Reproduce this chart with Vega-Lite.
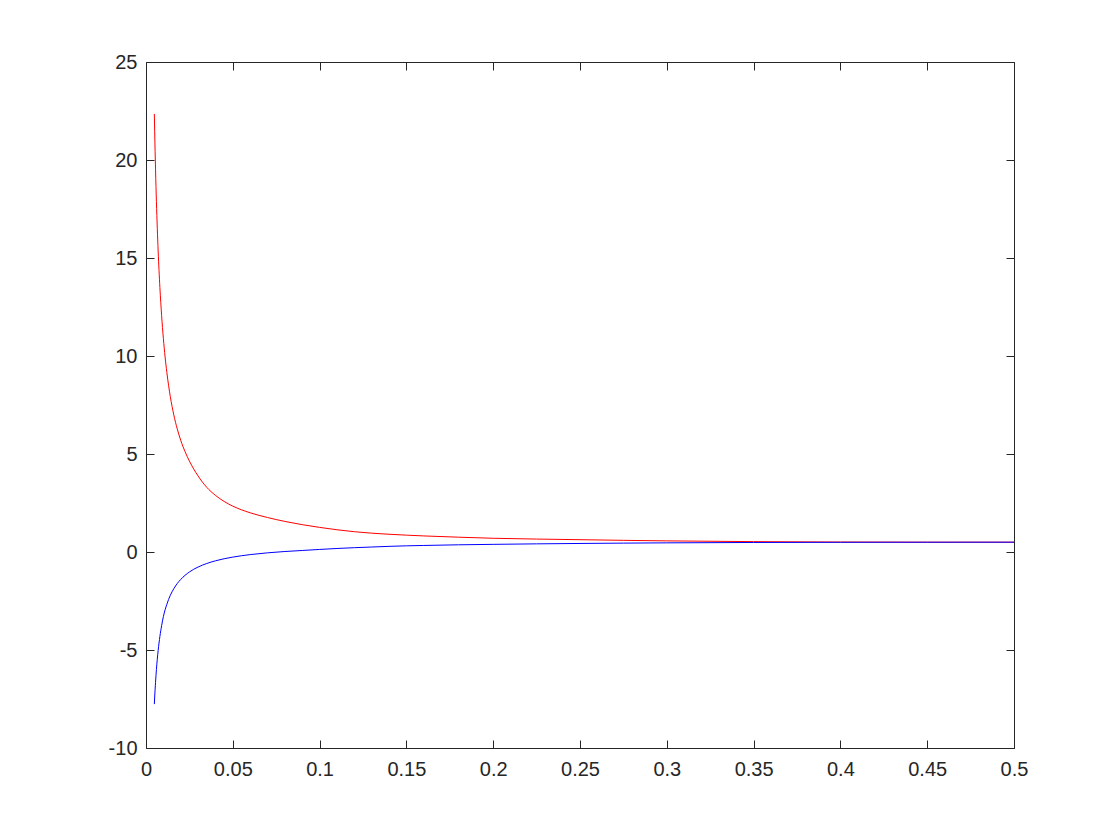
{
  "$schema": "https://vega.github.io/schema/vega-lite/v6.json",
  "autosize": "none",
  "padding": {"left": 146, "top": 62, "right": 106, "bottom": 92},
  "width": 868,
  "height": 686,
  "background": "white",
  "config": {
    "view": {"stroke": null},
    "axis": {
      "grid": false,
      "domainColor": "#262626",
      "tickColor": "#262626",
      "labelColor": "#262626",
      "labelFont": "Liberation Sans",
      "labelFontSize": 20,
      "labelFlush": false,
      "labelOverlap": false,
      "tickSize": -8,
      "domainWidth": 1,
      "tickWidth": 1,
      "title": null
    }
  },
  "datasets": {
    "red": [
      {"x": 0.0048, "y": 22.35}, {"x": 0.005, "y": 21.44}, {"x": 0.0055, "y": 19.5}, {"x": 0.006, "y": 17.88},
      {"x": 0.007, "y": 15.36}, {"x": 0.008, "y": 13.5}, {"x": 0.009, "y": 12.06}, {"x": 0.01, "y": 10.9},
      {"x": 0.011, "y": 9.95}, {"x": 0.012, "y": 9.17}, {"x": 0.014, "y": 7.93}, {"x": 0.016, "y": 7.0},
      {"x": 0.018, "y": 6.28}, {"x": 0.02, "y": 5.7}, {"x": 0.0225, "y": 5.12}, {"x": 0.025, "y": 4.64},
      {"x": 0.0275, "y": 4.23}, {"x": 0.03, "y": 3.88}, {"x": 0.035, "y": 3.3}, {"x": 0.04, "y": 2.89},
      {"x": 0.045, "y": 2.58}, {"x": 0.05, "y": 2.34}, {"x": 0.06, "y": 2.0}, {"x": 0.07, "y": 1.76},
      {"x": 0.08, "y": 1.56}, {"x": 0.09, "y": 1.395}, {"x": 0.1, "y": 1.255}, {"x": 0.11, "y": 1.135},
      {"x": 0.12, "y": 1.035}, {"x": 0.13, "y": 0.96}, {"x": 0.14, "y": 0.905}, {"x": 0.15, "y": 0.86},
      {"x": 0.16, "y": 0.82}, {"x": 0.18, "y": 0.756}, {"x": 0.2, "y": 0.7}, {"x": 0.225, "y": 0.66},
      {"x": 0.25, "y": 0.628}, {"x": 0.275, "y": 0.595}, {"x": 0.3, "y": 0.567}, {"x": 0.35, "y": 0.529},
      {"x": 0.4, "y": 0.51}, {"x": 0.45, "y": 0.502}, {"x": 0.5, "y": 0.5}
    ],
    "blue": [
      {"x": 0.0048, "y": -7.76}, {"x": 0.005, "y": -7.4}, {"x": 0.0055, "y": -6.65}, {"x": 0.006, "y": -6.0},
      {"x": 0.007, "y": -5.03}, {"x": 0.008, "y": -4.31}, {"x": 0.009, "y": -3.76}, {"x": 0.01, "y": -3.3},
      {"x": 0.011, "y": -2.95}, {"x": 0.012, "y": -2.67}, {"x": 0.014, "y": -2.21}, {"x": 0.016, "y": -1.875},
      {"x": 0.018, "y": -1.61}, {"x": 0.02, "y": -1.4}, {"x": 0.0225, "y": -1.19}, {"x": 0.025, "y": -1.02},
      {"x": 0.0275, "y": -0.88}, {"x": 0.03, "y": -0.767}, {"x": 0.035, "y": -0.586}, {"x": 0.04, "y": -0.45},
      {"x": 0.045, "y": -0.344}, {"x": 0.05, "y": -0.26}, {"x": 0.06, "y": -0.133}, {"x": 0.07, "y": -0.043},
      {"x": 0.08, "y": 0.025}, {"x": 0.09, "y": 0.078}, {"x": 0.1, "y": 0.13}, {"x": 0.11, "y": 0.18},
      {"x": 0.12, "y": 0.22}, {"x": 0.13, "y": 0.254}, {"x": 0.14, "y": 0.288}, {"x": 0.15, "y": 0.315},
      {"x": 0.16, "y": 0.334}, {"x": 0.18, "y": 0.367}, {"x": 0.2, "y": 0.39}, {"x": 0.225, "y": 0.416},
      {"x": 0.25, "y": 0.436}, {"x": 0.275, "y": 0.453}, {"x": 0.3, "y": 0.467}, {"x": 0.35, "y": 0.486},
      {"x": 0.4, "y": 0.495}, {"x": 0.45, "y": 0.499}, {"x": 0.5, "y": 0.5}
    ]
  },
  "layer": [
    {
      "data": {"name": "red"},
      "mark": {"type": "line", "color": "#ff0000", "strokeWidth": 1, "clip": true, "interpolate": "monotone"},
      "encoding": {
        "x": {"field": "x", "type": "quantitative",
              "scale": {"domain": [0, 0.5], "nice": false, "zero": false},
              "axis": {"orient": "bottom", "values": [0, 0.05, 0.1, 0.15, 0.2, 0.25, 0.3, 0.35, 0.4, 0.45, 0.5], "labelExpr": "'' + datum.value", "labelPadding": 19}},
        "y": {"field": "y", "type": "quantitative",
              "scale": {"domain": [-10, 25], "nice": false, "zero": false},
              "axis": {"orient": "left", "values": [-10, -5, 0, 5, 10, 15, 20, 25], "labelExpr": "'' + datum.value", "labelPadding": 17}}
      }
    },
    {
      "data": {"name": "blue"},
      "mark": {"type": "line", "color": "#0000ff", "strokeWidth": 1, "clip": true, "interpolate": "monotone"},
      "encoding": {
        "x": {"field": "x", "type": "quantitative",
              "axis": {"orient": "top", "values": [0, 0.05, 0.1, 0.15, 0.2, 0.25, 0.3, 0.35, 0.4, 0.45, 0.5], "labels": false}},
        "y": {"field": "y", "type": "quantitative",
              "axis": {"orient": "right", "values": [-10, -5, 0, 5, 10, 15, 20, 25], "labels": false}}
      }
    }
  ],
  "resolve": {"axis": {"x": "independent", "y": "independent"}}
}
